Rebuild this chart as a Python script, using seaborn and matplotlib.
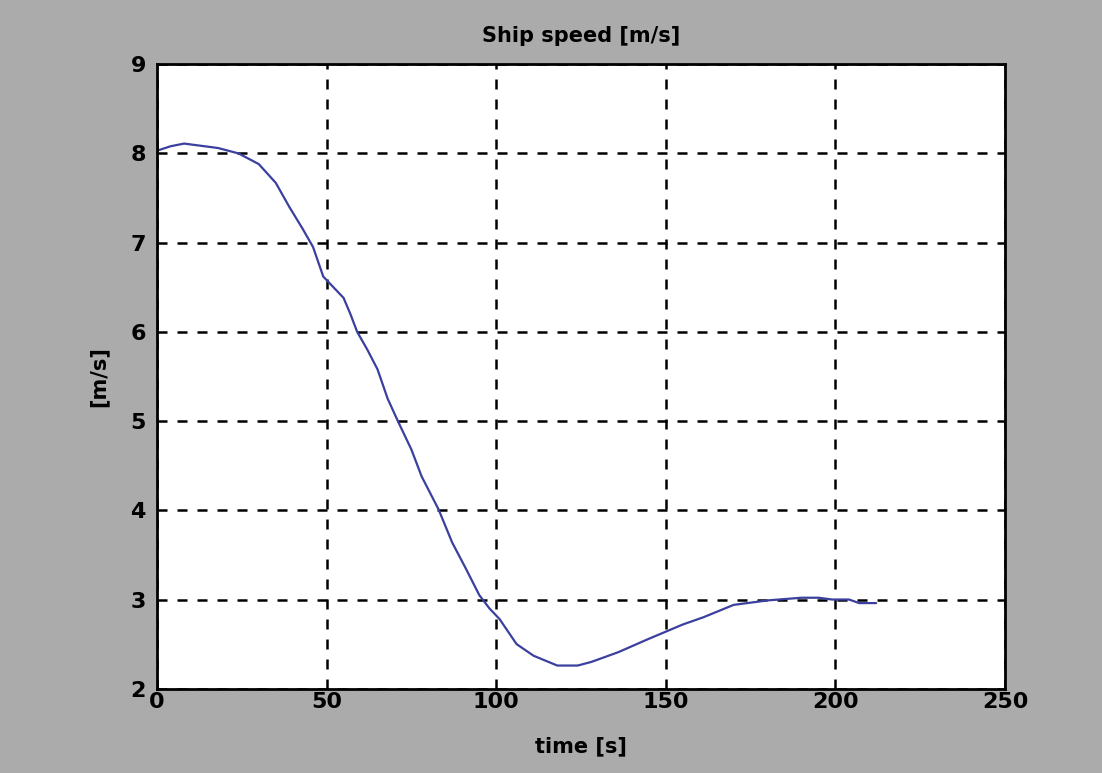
import matplotlib
matplotlib.use("Agg")
import matplotlib.pyplot as plt
import seaborn as sns
import pandas as pd

# speed trace
time_s = [0, 4, 8, 12, 18, 24, 30, 35, 39, 43, 46, 49, 52, 55, 57, 59, 62, 65,
          68, 71, 75, 78, 83, 87, 91, 95, 98, 101, 106, 111, 118, 124, 128,
          136, 145, 150, 155, 161, 170, 180, 190, 195, 199, 204, 207, 212]
speed_ms = [8.03, 8.08, 8.11, 8.09, 8.06, 8.0, 7.88, 7.67, 7.4, 7.15, 6.95,
            6.62, 6.5, 6.38, 6.2, 6.0, 5.8, 5.58, 5.25, 5.0, 4.68, 4.38, 4.01,
            3.64, 3.35, 3.05, 2.9, 2.78, 2.5, 2.37, 2.26, 2.26, 2.3, 2.41, 2.56,
            2.64, 2.72, 2.8, 2.94, 2.99, 3.02, 3.02, 3.0, 3.0, 2.96, 2.96]

x_ticks = [0, 50, 100, 150, 200, 250]
y_ticks = [2, 3, 4, 5, 6, 7, 8, 9]

df = pd.DataFrame({"time": time_s, "speed": speed_ms})

sns.set_theme(style="white")
plt.rcParams["font.family"] = ["DejaVu Sans"]
plt.rcParams["text.color"] = "black"
plt.rcParams["axes.labelcolor"] = "black"

fig = plt.figure(figsize=(11.02, 7.73), dpi=100, facecolor="#ababab")
ax = fig.add_axes([0.1425, 0.109, 0.7695, 0.808])
ax.set_facecolor("white")

sns.lineplot(data=df, x="time", y="speed", ax=ax, color="#3b3f9e", linewidth=1.6)

ax.set_xlim(0, 250)
ax.set_ylim(2, 9)
ax.set_xticks(x_ticks)
ax.set_yticks(y_ticks)
ax.grid(True, color="black", linestyle=(0, (4, 4)), linewidth=1.8)
for s in ax.spines.values():
    s.set_color("black")
    s.set_linewidth(2)
ax.tick_params(direction="in", length=6, width=1.5, colors="black", labelsize=16)
ax.tick_params(axis="y", pad=8)
ax.tick_params(axis="x", pad=2)
for lbl in ax.get_xticklabels() + ax.get_yticklabels():
    lbl.set_fontweight("bold")

ax.set_title("Ship speed [m/s]", fontsize=15, fontweight="bold", pad=16, color="black")
ax.set_xlabel("time [s]", fontsize=15, fontweight="bold", labelpad=18)
ax.set_ylabel("[m/s]", fontsize=15, fontweight="bold", labelpad=16)

fig.savefig("out.png", dpi=100, facecolor=fig.get_facecolor())
